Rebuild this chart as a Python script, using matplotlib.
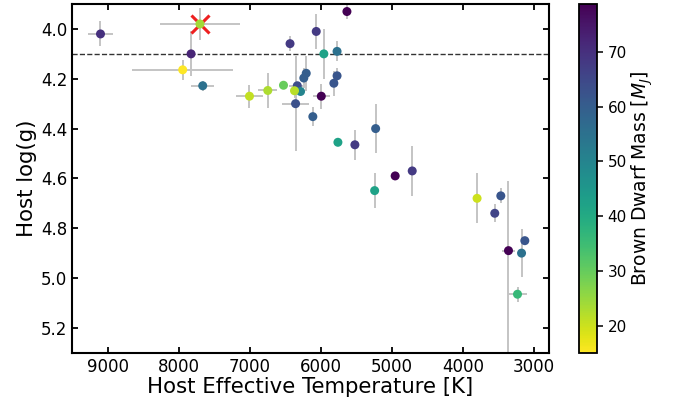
import numpy as np
import matplotlib
matplotlib.use("Agg")
import matplotlib.pyplot as plt
from matplotlib.colors import Normalize

# Host effective temperature [K]
teff = [9100, 7825, 7943, 7661, 7003, 6745, 6524, 6432, 6354, 6330,
        6284, 6369, 6238, 6204, 6111, 6063, 5992, 5956, 5815, 5770,
        5770, 5758, 5519, 5631, 5227, 5241, 4952, 4712, 3799, 3465,
        3550, 3357, 3127, 3173, 3230]
teff_err = [180, 0, 715, 165, 190, 135, 0, 0, 190, 115,
            0, 0, 0, 0, 0, 0, 120, 0, 0, 0,
            0, 0, 0, 0, 0, 0, 0, 0, 0, 0,
            0, 95, 0, 0, 130]
# Host log(g)
logg = [4.02, 4.10, 4.164, 4.228, 4.27, 4.247, 4.226, 4.059, 4.30, 4.228,
        4.251, 4.248, 4.197, 4.178, 4.352, 4.01, 4.27, 4.10, 4.218, 4.09,
        4.188, 4.455, 4.465, 3.93, 4.40, 4.649, 4.59, 4.57, 4.68, 4.67,
        4.74, 4.89, 4.85, 4.90, 5.065]
logg_err_lo = [0.05, 0.09, 0.04, 0.02, 0.047, 0.07, 0.0, 0.03, 0.19, 0.0,
               0.0, 0.03, 0.04, 0.07, 0.037, 0.07, 0.05, 0.10, 0.05, 0.04,
               0.03, 0.0, 0.06, 0.03, 0.10, 0.07, 0.0, 0.10, 0.10, 0.03,
               0.037, 0.28, 0.0, 0.097, 0.03]
logg_err_hi = [0.05, 0.09, 0.04, 0.02, 0.047, 0.07, 0.0, 0.03, 0.19, 0.0,
               0.0, 0.03, 0.04, 0.07, 0.037, 0.07, 0.05, 0.10, 0.05, 0.04,
               0.03, 0.0, 0.06, 0.03, 0.10, 0.07, 0.0, 0.10, 0.10, 0.03,
               0.037, 0.45, 0.0, 0.097, 0.03]
# Brown dwarf mass [M_J]
mass = [70, 72, 15.1, 55, 21, 23, 30, 68, 63, 64,
        50, 22, 60, 60, 60, 68, 78.7, 42, 62, 55,
        62, 42, 68, 78.5, 60, 42, 78.5, 68, 20, 62,
        66, 78.5, 62, 55, 36]

# highlighted object (red cross)
star_teff = 7700
star_teff_err = 557
star_logg = 3.98
star_logg_err = 0.064
star_mass = 24

logg_limit = 4.1

fig = plt.figure(figsize=(6.8, 4.05), dpi=100)
ax = fig.add_axes([0.106, 0.129, 0.701, 0.861])
cax = fig.add_axes([0.851, 0.129, 0.027, 0.861])

norm = Normalize(vmin=min(mass), vmax=max(mass))
cmap = plt.get_cmap("viridis_r")

ax.axhline(logg_limit, color="#333333", ls="--", lw=1.0, zorder=0)

ecol = "#c4c4c4"
ax.errorbar(teff, logg, xerr=teff_err, yerr=[logg_err_lo, logg_err_hi],
            fmt="none", ecolor=ecol, elinewidth=1.4, capsize=0, zorder=1)
ax.errorbar([star_teff], [star_logg], xerr=[star_teff_err], yerr=[star_logg_err],
            fmt="none", ecolor=ecol, elinewidth=1.4, capsize=0, zorder=1)

sc = ax.scatter(teff, logg, c=mass, cmap=cmap, norm=norm, s=42,
                edgecolors="none", zorder=2)
ax.plot([star_teff], [star_logg], marker="x", color="#ee2020", markersize=13,
        mew=2.2, ls="none", zorder=3)
ax.scatter([star_teff], [star_logg], c=[star_mass], cmap=cmap, norm=norm, s=42,
           edgecolors="none", zorder=4)

ax.set_xlim(9500, 2790)
ax.set_ylim(5.3, 3.9)
ax.set_xticks([9000, 8000, 7000, 6000, 5000, 4000, 3000])
ax.set_yticks([4.0, 4.2, 4.4, 4.6, 4.8, 5.0, 5.2])
ax.tick_params(direction="in", top=True, right=True, labelsize=12,
               width=1.3, length=4)
for sp in ax.spines.values():
    sp.set_linewidth(1.5)
ax.set_xlabel("Host Effective Temperature [K]", fontsize=15.3, labelpad=1)
ax.set_ylabel("Host log(g)", fontsize=15.3, labelpad=3)

cb = fig.colorbar(sc, cax=cax)
cb.set_ticks([20, 30, 40, 50, 60, 70])
cb.ax.tick_params(labelsize=11, width=1.1, length=4)
cb.outline.set_linewidth(1.3)
cb.set_label("Brown Dwarf Mass [$M_J$]", fontsize=13.5, labelpad=2)

fig.savefig("out.png", dpi=100)
